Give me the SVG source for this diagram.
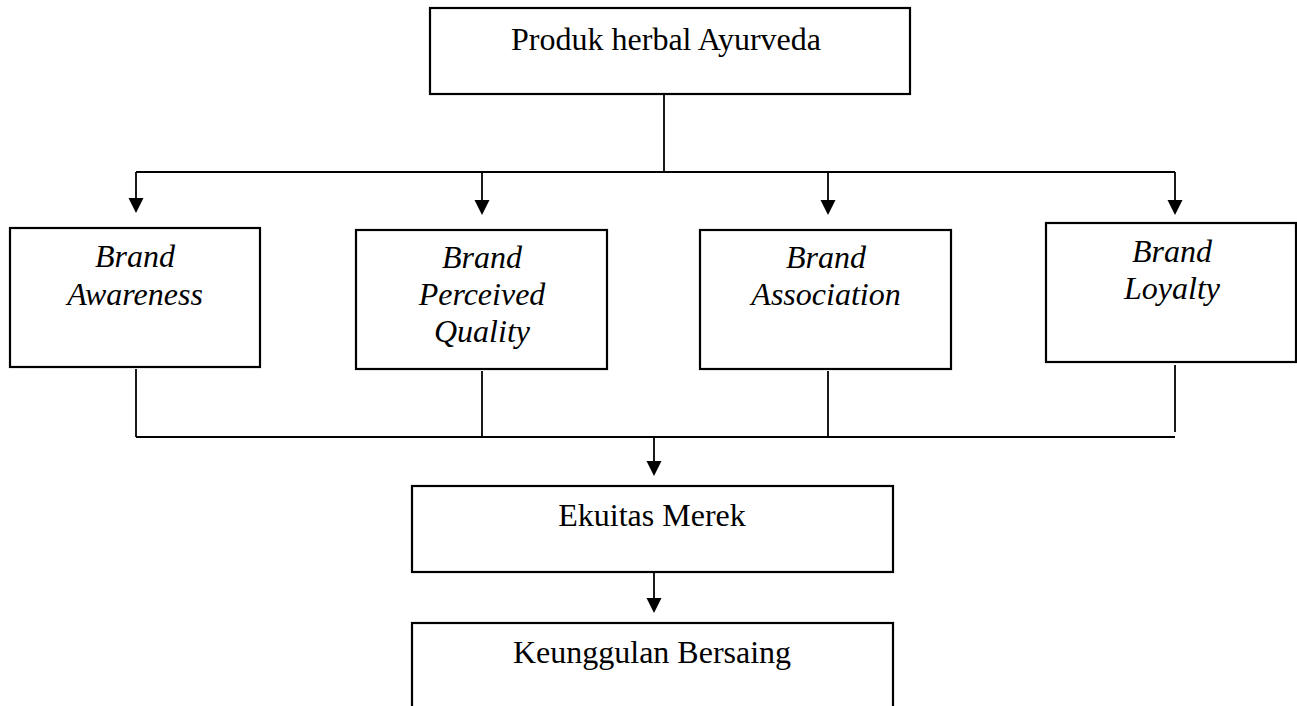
<svg xmlns="http://www.w3.org/2000/svg" width="1297" height="706" viewBox="0 0 1297 706">
<style>
.box{fill:#fff;stroke:#000;stroke-width:2.2}
.ln{fill:none;stroke:#000;stroke-width:1.8}
.t{font-family:"Liberation Serif","Times New Roman",serif;font-size:32px;fill:#000;text-anchor:middle}
.i{font-style:italic}
</style>
<defs>
<marker id="ah" markerWidth="15" markerHeight="15" viewBox="0 0 15 15" refX="7.5" refY="15" orient="auto-start-reverse" markerUnits="userSpaceOnUse">
<path d="M0,0 L15,0 L7.5,15 Z" fill="#000"/>
</marker>
</defs>
<rect width="1297" height="706" fill="#fff"/>
<g id="connectors">
<line class="ln" x1="664" y1="94" x2="664" y2="172"/>
<line class="ln" x1="136" y1="172" x2="1175" y2="172"/>
<path class="ln" d="M136,172 V198"/>
<path d="M128.5,198 L143.5,198 L136,213 Z"/>
<path class="ln" d="M482,172 V200"/>
<path d="M474.5,200 L489.5,200 L482,215 Z"/>
<path class="ln" d="M828,172 V200"/>
<path d="M820.5,200 L835.5,200 L828,215 Z"/>
<path class="ln" d="M1175,172 V200"/>
<path d="M1167.5,200 L1182.5,200 L1175,215 Z"/>
<line class="ln" x1="136" y1="369" x2="136" y2="437"/>
<line class="ln" x1="482" y1="371" x2="482" y2="437"/>
<line class="ln" x1="828" y1="371" x2="828" y2="437"/>
<line class="ln" x1="1175" y1="365" x2="1175" y2="432"/>
<line class="ln" x1="136" y1="437" x2="1175" y2="437"/>
<path class="ln" d="M654,437 V461"/>
<path d="M646.5,461 L661.5,461 L654,476 Z"/>
<path class="ln" d="M654,572 V598"/>
<path d="M646.5,598 L661.5,598 L654,613 Z"/>
</g>
<g id="produk">
<rect class="box" x="430" y="8" width="480" height="86"/>
<text class="t" x="666" y="50">Produk herbal Ayurveda</text>
</g>
<g id="awareness">
<rect class="box" x="10" y="228" width="250" height="139"/>
<text class="t i" x="135" y="267">Brand</text>
<text class="t i" x="135" y="305">Awareness</text>
</g>
<g id="perceived">
<rect class="box" x="356" y="230" width="251" height="139"/>
<text class="t i" x="482" y="268">Brand</text>
<text class="t i" x="482" y="305">Perceived</text>
<text class="t i" x="482" y="342">Quality</text>
</g>
<g id="association">
<rect class="box" x="700" y="230" width="251" height="139"/>
<text class="t i" x="826" y="268">Brand</text>
<text class="t i" x="826" y="305">Association</text>
</g>
<g id="loyalty">
<rect class="box" x="1046" y="223" width="250" height="139"/>
<text class="t i" x="1172" y="262">Brand</text>
<text class="t i" x="1172" y="299">Loyalty</text>
</g>
<g id="ekuitas">
<rect class="box" x="412" y="486" width="481" height="86"/>
<text class="t" x="652" y="526">Ekuitas Merek</text>
</g>
<g id="keunggulan">
<rect class="box" x="412" y="623" width="481" height="100"/>
<text class="t" x="652" y="663">Keunggulan Bersaing</text>
</g>
</svg>
